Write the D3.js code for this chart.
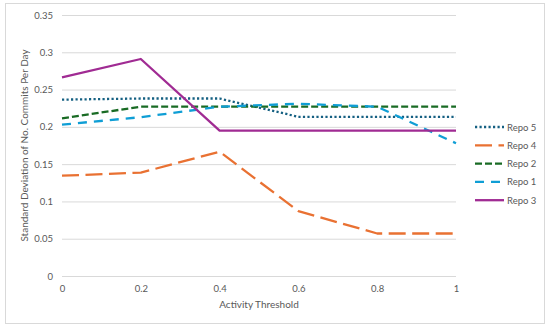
<!DOCTYPE html>
<html><head><meta charset="utf-8">
<script src="https://cdn.jsdelivr.net/npm/d3@7"></script>
<style>body{margin:0;background:#fff}svg{display:block}text{font-family:Lato,"Noto Sans",sans-serif;fill:#595959}</style>
</head><body><svg id="c" width="550" height="330"></svg>
<script>
const xValues = [0, 0.2, 0.4, 0.6, 0.8, 1];
const xTicks = [0, 0.2, 0.4, 0.6, 0.8, 1];
const yTicks = [0, 0.05, 0.1, 0.15, 0.2, 0.25, 0.3, 0.35];
const seriesNames = ["Repo 5", "Repo 4", "Repo 2", "Repo 1", "Repo 3"];
const repo5 = [0.2365, 0.238, 0.238, 0.2135, 0.2135, 0.2135];
const repo4 = [0.1345, 0.1386, 0.1667, 0.087, 0.057, 0.057];
const repo2 = [0.2115, 0.227, 0.227, 0.227, 0.227, 0.227];
const repo1 = [0.203, 0.213, 0.227, 0.231, 0.227, 0.178];
const repo3 = [0.2665, 0.291, 0.195, 0.195, 0.195, 0.195];
const seriesValues = [repo5, repo4, repo2, repo1, repo3];
const colors = ["#156082", "#E97132", "#196B24", "#0F9ED5", "#A02B93"];
const dashes = ["2.2,2.3", "17,6.5", "7,3", "9,7", null];

const svg = d3.select("#c");
svg.append("rect").attr("x",5.5).attr("y",3.5).attr("width",539).attr("height",320)
  .attr("fill","#fff").attr("stroke","#D9D9D9");
const x = d3.scaleLinear().domain([0,1]).range([62,456]);
const y = d3.scaleLinear().domain([0,0.35]).range([276,15]);

const gy = svg.append("g").attr("transform","translate(62,0)")
  .call(d3.axisLeft(y).tickValues(yTicks).tickSize(-394).tickPadding(9).tickFormat(d=>String(+d.toFixed(2))));
gy.select(".domain").remove();
gy.selectAll("line").attr("stroke","#D9D9D9");
gy.selectAll("text").attr("font-size","9.5px").attr("fill","#595959").style("font-family","Lato");

const gx = svg.append("g").attr("transform","translate(0,276)")
  .call(d3.axisBottom(x).tickValues(xTicks).tickSize(0).tickPadding(9).tickFormat(d=>String(d)));
gx.select(".domain").remove();
gx.selectAll("text").attr("font-size","9.5px").attr("fill","#595959").style("font-family","Lato");

svg.append("text").attr("x",259).attr("y",307.5).attr("text-anchor","middle").attr("font-size","10px").text("Activity Threshold");
svg.append("text").attr("transform","translate(28,145.5) rotate(-90)").attr("text-anchor","middle").attr("font-size","10px").text("Standard Deviation of No. Commits Per Day");

const line = d3.line().x((d,i)=>x(xValues[i])).y(d=>y(d));
seriesValues.forEach((vals,k)=>{
  svg.append("path").attr("d",line(vals)).attr("fill","none")
    .attr("stroke",colors[k]).attr("stroke-width",2.3)
    .attr("stroke-dasharray",dashes[k]).attr("stroke-linejoin","round");
});

const lg = svg.append("g");
seriesNames.forEach((n,i)=>{
  const yy = 127 + i*18.3;
  lg.append("line").attr("x1",475).attr("x2",504).attr("y1",yy).attr("y2",yy)
    .attr("stroke",colors[i]).attr("stroke-width",2.3).attr("stroke-dasharray",dashes[i]);
  lg.append("text").attr("x",507).attr("y",yy+3.5).attr("font-size","9.5px").text(n);
});
</script></body></html>
